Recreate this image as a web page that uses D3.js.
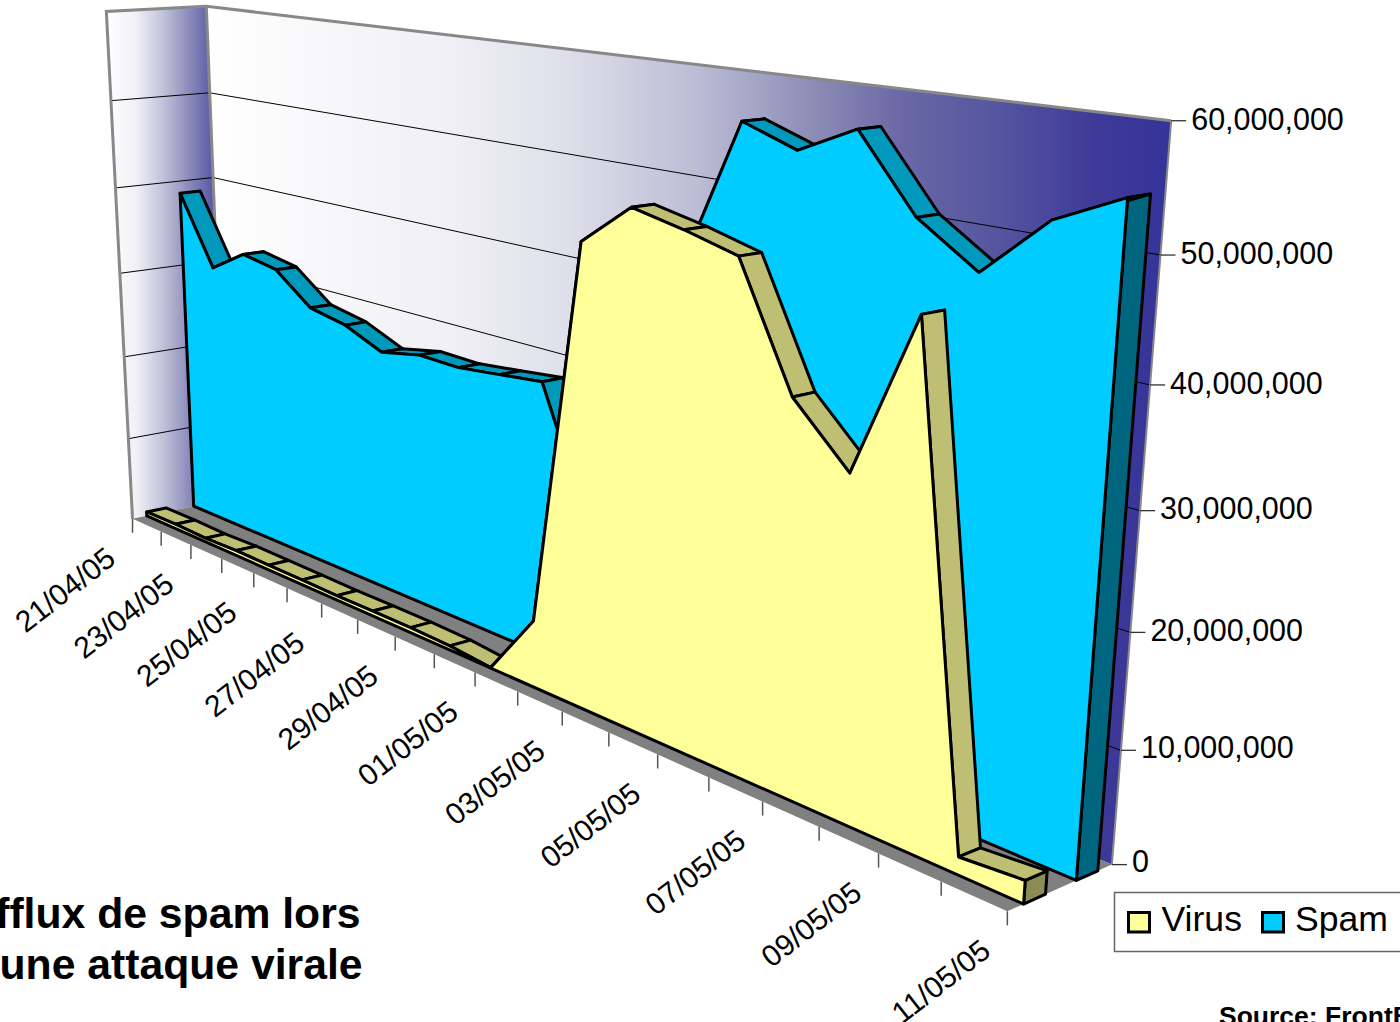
<!DOCTYPE html>
<html>
<head>
<meta charset="utf-8">
<script src="https://cdn.jsdelivr.net/npm/d3@7"></script>
<style>
  body { margin: 0; background: #fff; }
  svg { display: block; font-family: "Liberation Sans", Arial, sans-serif; }
</style>
</head>
<body>
<div id="wrapper"></div>
<script>
const dates = ["21/04/05","22/04/05","23/04/05","24/04/05","25/04/05","26/04/05","27/04/05","28/04/05","29/04/05","30/04/05","01/05/05",
    "02/05/05","03/05/05","04/05/05","05/05/05","06/05/05","07/05/05","08/05/05","09/05/05","10/05/05","11/05/05"];
const virus = [500000,550000,450000,600000,550000,550000,500000,550000,550000,450000,50000,
    6820000,44770000,48700000,47640000,46340000,35590000,30550000,44720000,1560000,2020000];
// 02/05 and 03/05 are hidden behind the virus area, rough guess
const spam = [38560000,30640000,33200000,32420000,29150000,28320000,26500000,27390000,27280000,27790000,28320000,
    16000000,28000000,43600000,56320000,54560000,57010000,50660000,47200000,52220000,54760000];
const valueTicks = [0,10000000,20000000,30000000,40000000,50000000,60000000];

const width = 1400, height = 1022;

// box corners and axis marks as seen on screen: [x, y, z, px, py], all of x,y,z in 0..1
const cameraPins = [[0,0,0,131,518],[0,0,0,131,518],[1,0,0,1007,913],[1,0,1,1112,863],[0,0,1,228,501],[0,1,0,107,12],[0,1,1,205,6],[0,1,1,205,6],[1,1,1,1172,121],
    [1,5/6,1,1160,255.7],[1,4/6,1,1150,384],[0,5/6,0,112,100],[0,4/6,0,116,188],[0,3/6,0,121,274]];

function solve(A, b) {
    const n = b.length;
    A = A.map((r, i) => [...r, b[i]]);
    for (let c = 0; c < n; c++) {
        let p = c;
        for (let r = c + 1; r < n; r++) if (Math.abs(A[r][c]) > Math.abs(A[p][c])) p = r;
        [A[c], A[p]] = [A[p], A[c]];
        for (let r = 0; r < n; r++) {
            if (r == c) continue;
            const f = A[r][c] / A[c][c];
            for (let k = c; k <= n; k++) A[r][k] -= f * A[c][k];
        }
    }
    return A.map((r, i) => r[n] / r[i]);
}

// least squares fit of a 3x4 camera matrix
function fitCamera(pins) {
    const rows = [], rhs = [];
    pins.forEach(([x, y, z, u, v]) => {
        u /= 1000; v /= 1000;
        rows.push([x,y,z,1,0,0,0,0,-u*x,-u*y,-u*z]); rhs.push(u);
        rows.push([0,0,0,0,x,y,z,1,-v*x,-v*y,-v*z]); rhs.push(v);
    });
    const ata = d3.range(11).map(i => d3.range(11).map(j => d3.sum(rows, r => r[i] * r[j])));
    const atb = d3.range(11).map(i => d3.sum(rows, (r, k) => r[i] * rhs[k]));
    return solve(ata, atb);
}

const cam = fitCamera(cameraPins);
function project(x, y, z) {
    const w = cam[8]*x + cam[9]*y + cam[10]*z + 1;
    return [1000*(cam[0]*x + cam[1]*y + cam[2]*z + cam[3]) / w, 1000*(cam[4]*x + cam[5]*y + cam[6]*z + cam[7]) / w];
}

const xScaler = d3.scalePoint().domain(dates).range([0, 1]);
const yScaler = d3.scaleLinear().domain([0, 60000000]).range([0, 1]);
const at = (date, value, z) => project(xScaler(date), yScaler(value), z);
const lineGenerator = d3.line();
const poly = pts => lineGenerator(pts) + "Z";
const first = dates[0], last = dates[dates.length - 1];

const svg = d3.select("#wrapper").append("svg").attr("width", width).attr("height", height);
const defs = svg.append("defs");

function wallGradient(id, x1, x2, stops) {
    defs.append("linearGradient").attr("id", id)
        .attr("gradientUnits", "userSpaceOnUse")
        .attr("x1", x1).attr("x2", x2).attr("y1", 0).attr("y2", 0)
        .selectAll("stop").data(stops).join("stop")
        .attr("offset", d => d[0]).attr("stop-color", d => d[1]);
}
wallGradient("backWall", 205, 1172, [[0,"#ffffff"],[0.25,"#f0f0f5"],[0.37,"#e0e0ea"],[0.51,"#bcbcd6"],[0.62,"#9090b8"],[0.72,"#6a68a5"],[0.82,"#5555a0"],[0.92,"#3f3a98"],[1,"#333399"]]);
wallGradient("sideWall", 107, 225, [[0,"#ffffff"],[0.25,"#f0f0f6"],[0.5,"#bcbcd6"],[0.75,"#7d7db4"],[1,"#3f3f9c"]]);

// walls and floor
const walls = svg.append("g");
walls.append("path")
    .attr("d", poly([project(0,0,1), project(0,1,1), project(1,1,1), project(1,0,1)]))
    .attr("fill", "url(#backWall)");
walls.append("path")
    .attr("d", poly([project(0,0,0), project(0,1,0), project(0,1,1), project(0,0,1)]))
    .attr("fill", "url(#sideWall)");
walls.append("path")
    .attr("d", poly([project(0,0,0), project(1,0,0), project(1,0,1), project(0,0,1)]))
    .attr("fill", "#808080");

// gridlines run along the side wall then the back wall
walls.selectAll(".grid").data(valueTicks.slice(1, -1)).join("path")
    .attr("class", "grid")
    .attr("d", d => lineGenerator([project(0, yScaler(d), 0), project(0, yScaler(d), 1), project(1, yScaler(d), 1)]))
    .attr("fill", "none").attr("stroke", "#000").attr("stroke-width", 1);

walls.append("path")
    .attr("d", lineGenerator([project(0,0,0), project(0,1,0), project(0,1,1), project(1,1,1)]))
    .attr("fill", "none").attr("stroke", "#888").attr("stroke-width", 3);
walls.append("path")
    .attr("d", lineGenerator([project(0,1,1), project(0,0,1)]))
    .attr("fill", "none").attr("stroke", "#888").attr("stroke-width", 3);
walls.append("path")
    .attr("d", lineGenerator([project(1,1,1), project(1,0,1)]))
    .attr("fill", "none").attr("stroke", "#888").attr("stroke-width", 2);

function drawSeries(values, z0, z1, front, top, side) {
    const g = svg.append("g").attr("stroke", "#000").attr("stroke-width", 3).attr("stroke-linejoin", "round");
    // end cap on the right
    g.append("path")
        .attr("d", poly([at(last, 0, z0), at(last, values[20], z0), at(last, values[20], z1), at(last, 0, z1)]))
        .attr("fill", side);
    // ridge faces, they all sit behind the front face
    g.selectAll(".ridge").data(d3.pairs(d3.range(values.length))).join("path")
        .attr("class", "ridge")
        .attr("d", ([a, b]) => poly([at(dates[a], values[a], z0), at(dates[a], values[a], z1), at(dates[b], values[b], z1), at(dates[b], values[b], z0)]))
        .attr("fill", top);
    const outline = [at(first, 0, z0), ...dates.map((d, i) => at(d, values[i], z0)), at(last, 0, z0)];
    g.append("path").attr("d", poly(outline)).attr("fill", front);
}
drawSeries(spam, 0.65, 0.86, "#00ccff", "#0099bb", "#006680");
drawSeries(virus, 0.15, 0.355, "#ffff99", "#bfbf73", "#8c8c55");

// category axis along the front edge of the floor
const xAxis = svg.append("g");
xAxis.selectAll("line").data(dates).join("line")
    .attr("x1", d => at(d, 0, 0)[0]).attr("x2", d => at(d, 0, 0)[0])
    .attr("y1", d => at(d, 0, 0)[1]).attr("y2", d => at(d, 0, 0)[1] + 14)
    .attr("stroke", "#555").attr("stroke-width", 1.5);
xAxis.selectAll("text").data(dates.filter((d, i) => i % 2 == 0)).join("text")
    .attr("transform", d => {
        const p = at(d, 0, 0);
        return `translate(${p[0] - 15},${p[1] + 43}) rotate(-38)`;
    })
    .attr("text-anchor", "end")
    .style("font-size", "30px")
    .text(d => d);

// value axis on the right edge of the back wall
const valueFormat = d3.format(",");
const yAxis = svg.append("g");
yAxis.selectAll("line").data(valueTicks).join("line")
    .attr("x1", d => project(1, yScaler(d), 1)[0]).attr("x2", d => project(1, yScaler(d), 1)[0] + 15)
    .attr("y1", d => project(1, yScaler(d), 1)[1]).attr("y2", d => project(1, yScaler(d), 1)[1])
    .attr("stroke", "#333").attr("stroke-width", 1.3);
yAxis.selectAll("text").data(valueTicks).join("text")
    .attr("x", d => project(1, yScaler(d), 1)[0] + 20)
    .attr("y", d => project(1, yScaler(d), 1)[1] - 3 + 2 * yScaler(d))
    .attr("dy", "0.35em")
    .style("font-size", "30.5px")
    .text(d => valueFormat(d));

// legend, runs off the right of the picture
const legend = svg.append("g");
legend.append("rect").attr("x", 1114.5).attr("y", 892.5).attr("width", 320).attr("height", 59)
    .attr("fill", "#fff").attr("stroke", "#666").attr("stroke-width", 1.5);
const legendItems = [["Virus", "#ffff99", 1128.5, 1161.5], ["Spam", "#00ccff", 1262.5, 1295]];
legend.selectAll("rect.key").data(legendItems).join("rect")
    .attr("class", "key")
    .attr("x", d => d[2]).attr("y", 912.5).attr("width", 21).attr("height", 19.5)
    .attr("fill", d => d[1]).attr("stroke", "#000").attr("stroke-width", 3);
legend.selectAll("text").data(legendItems).join("text")
    .attr("x", d => d[3]).attr("y", 931)
    .style("font-size", "35.6px")
    .text(d => d[0]);

// title and source, cut by the picture edges like the original
svg.append("text").attr("x", 360.5).attr("y", 928).attr("text-anchor", "end")
    .style("font-size", "42.7px").style("font-weight", "bold").text("Afflux de spam lors");
svg.append("text").attr("x", 362.5).attr("y", 979).attr("text-anchor", "end")
    .style("font-size", "42.7px").style("font-weight", "bold").text("d'une attaque virale");
svg.append("text").attr("x", 1219).attr("y", 1025)
    .style("font-size", "26.5px").style("font-weight", "bold").text("Source: FrontBridge");
</script>
</body>
</html>
